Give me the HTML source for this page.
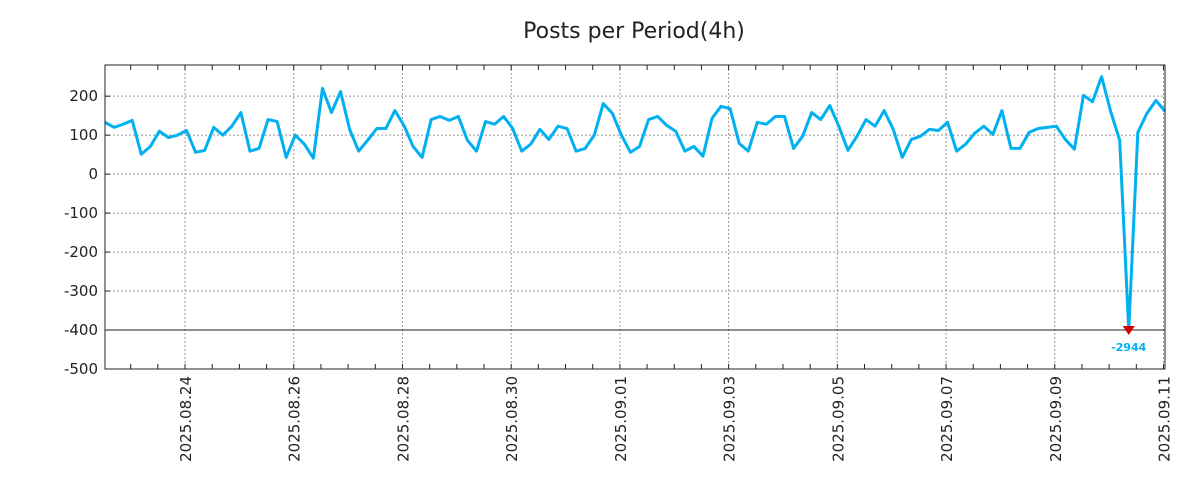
<!DOCTYPE html>
<html><head><meta charset="utf-8"><style>
body{margin:0;background:#fff;font-family:"Liberation Sans","DejaVu Sans",sans-serif}
svg{display:block}
</style></head><body>
<svg id="chart" width="1200" height="500" xmlns="http://www.w3.org/2000/svg">
<text x="634" y="38" text-anchor="middle" font-size="22" fill="#222" font-family="DejaVu Sans, sans-serif">Posts per Period(4h)</text>
</svg>
<script>
const startDate = "2025-08-22T12:40:00";
const stepHours = 4;
const values = [133,120,128,138,51,71,110,94,100,112,56,61,120,100,123,158,59,66,140,135,43,100,77,41,220,158,212,115,59,87,117,117,163,125,71,43,140,148,138,148,87,59,135,128,148,117,59,77,115,89,123,117,59,66,100,181,156,100,56,71,140,148,125,110,59,71,46,143,174,168,79,59,133,128,148,148,66,97,158,140,176,123,61,97,140,123,163,115,43,89,97,115,112,133,59,77,105,123,102,163,66,66,107,117,120,123,89,64,202,186,250,161,87,-2944,107,156,189,161];
const yTicks = [200,100,0,-100,-200,-300,-400,-500];
const xTickLabels = ["2025.08.24","2025.08.26","2025.08.28","2025.08.30","2025.09.01","2025.09.03","2025.09.05","2025.09.07","2025.09.09","2025.09.11"];
const yMin=-500, yMax=280, clampMin=-400;
const L=105,R=1165,T=65,B=369;
const svg=document.getElementById('chart');
const NS="http://www.w3.org/2000/svg";
const t0=new Date(startDate).getTime();
const tEnd=t0+(values.length-1)*stepHours*3600e3;
const x=t=>L+(t-t0)/(tEnd-t0)*(R-L);
const y=v=>B-(v-yMin)/(yMax-yMin)*(B-T);
function mk(tag,attrs){const e=document.createElementNS(NS,tag);for(const k in attrs)e.setAttribute(k,attrs[k]);svg.appendChild(e);return e;}
// grid y
yTicks.forEach(v=>{
  if(v>yMin){const g=mk('line',{x1:L,x2:R,y1:y(v),y2:y(v),stroke:'#999','stroke-dasharray':'2,2'});
  
  }
  const tk=mk('line',{x1:L,x2:L+5,y1:y(v),y2:y(v),stroke:'#222'});
  
  
  const lb=mk('text',{x:L-7,y:y(v)+5,'text-anchor':'end','font-size':15,fill:'#222','font-family':'DejaVu Sans, sans-serif'});
  lb.textContent=v;
  
  
});
// x grid
xTickLabels.forEach(s=>{
  const t=new Date(s.replace(/\./g,'-')+"T00:00:00").getTime();
  const xx=x(t);
  if(xx>R+2)return;
  const g=mk('line',{x1:xx,x2:xx,y1:T,y2:B,stroke:'#999','stroke-dasharray':'2,2'});
  
  
  const lb=mk('text',{x:0,y:0,'text-anchor':'end','font-size':15,fill:'#222','font-family':'DejaVu Sans, sans-serif',transform:`translate(${xx+6},${B+7}) rotate(-90)`});
  lb.textContent=s;
  
  
});
// minor ticks every 12h
for(let t=Math.ceil(t0/43200e3)*43200e3;t<=tEnd;t+=43200e3){
  const d=new Date(t);const xx=x(t);
  const a=mk('line',{x1:xx,x2:xx,y1:T,y2:T+5,stroke:'#222'});
  
  
  const b=mk('line',{x1:xx,x2:xx,y1:B,y2:B-5,stroke:'#222'});
  
  
}
// clamp line
const cl=mk('line',{x1:L,x2:R,y1:y(clampMin),y2:y(clampMin),stroke:'#222','stroke-width':1});


// series
const pts=values.map((v,i)=>[x(t0+i*stepHours*3600e3),y(Math.max(v,clampMin))]);
const p=mk('polyline',{points:pts.map(p=>p.join(',')).join(' '),fill:'none',stroke:'#00b0f0','stroke-width':3,'stroke-linejoin':'round'});


values.forEach((v,i)=>{
  if(v<clampMin){
    const [px,py]=pts[i];
    const m=mk('polygon',{points:`${px-6},${py-4} ${px+6},${py-4} ${px},${py+5}`,fill:'#d40000'});
    
    
    const lb=mk('text',{x:px,y:py+21,'text-anchor':'middle','font-size':11,'font-weight':'bold',fill:'#00b0f0','font-family':'DejaVu Sans, sans-serif'});
    lb.textContent=v;
    
    
  }
});
// frame
const fr=mk('rect',{x:L,y:T,width:R-L,height:B-T,fill:'none',stroke:'#222','stroke-width':1});


</script>
</body></html>
